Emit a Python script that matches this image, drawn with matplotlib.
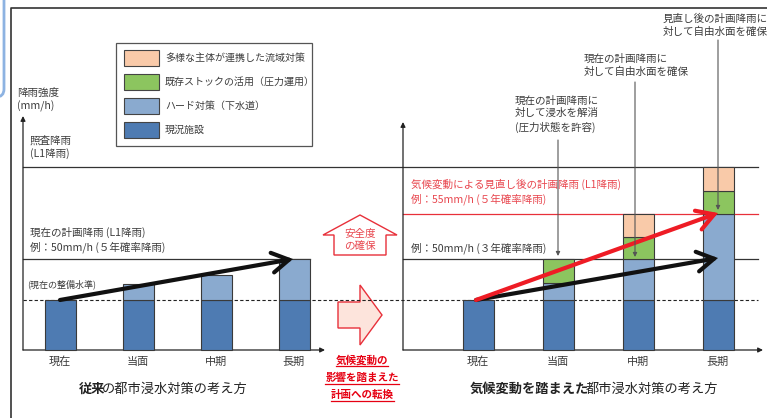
import numpy as np
import matplotlib.pyplot as plt
from matplotlib.patches import Polygon, Rectangle, FancyArrowPatch, FancyBboxPatch

plt.rcParams['font.family'] = ['Noto Sans CJK JP', 'DejaVu Sans']

# --- data (conceptual rainfall-capacity heights above the base line) ---
stages = ['現在', '当面', '中期', '長期']
left_base = [50, 50, 50, 50]
left_hard = [0, 16, 25, 41]
right_base = [50, 50, 50, 50]
right_hard = [0, 17, 41, 86]
right_stock = [0, 24, 22, 23]
right_basin = [0, 0, 23, 24]

level_now = 50      # 現在の整備水準
level_plan = 91     # 現在の計画降雨 50mm/h
level_new = 136     # 見直し後 55mm/h
level_check = 183   # 照査降雨

legend_labels = ['多様な主体が連携した流域対策', '既存ストックの活用（圧力運用）',
                 'ハード対策（下水道）', '現況施設']

c_base = '#4e7bb2'
c_hard = '#8aaacf'
c_stock = '#8cc55f'
c_basin = '#f9caa9'
red = '#e8303a'
txt = '#3c3c3c'
edge = '#3a3a3a'

fig = plt.figure(figsize=(7.67, 4.18), dpi=100)
ax = fig.add_axes([0, 0, 1, 1])
ax.set_xlim(0, 767)
ax.set_ylim(-68, 350)
ax.axis('off')

lx = 60 + 78 * np.arange(4)
rx = 478 + 80 * np.arange(4)
bw = 31

# outer frame and side tab
ax.plot([11, 11, 767], [-68, 342, 342], color='#333333', lw=1.2)
ax.add_patch(FancyBboxPatch((-30, 253), 34, 120, boxstyle='round,pad=0,rounding_size=8',
                            ec='#8db3e2', fc='none', lw=2))

# axes with arrow heads
for x0, x1, ytip in [(23, 325, 234), (403, 763, 228)]:
    ax.annotate('', xy=(x0, ytip), xytext=(x0, 0),
                arrowprops=dict(arrowstyle='-|>', color='#222222', lw=0.9, mutation_scale=7,
                                shrinkA=0, shrinkB=0))
    ax.annotate('', xy=(x1, 0), xytext=(x0, 0),
                arrowprops=dict(arrowstyle='-|>', color='#222222', lw=0.9, mutation_scale=7,
                                shrinkA=0, shrinkB=0))

# level lines
ax.plot([23, 758], [level_check] * 2, color='#333333', lw=0.9)
ax.plot([23, 310], [level_plan] * 2, color='#333333', lw=0.9)
ax.plot([403, 758], [level_plan] * 2, color='#333333', lw=0.9)
ax.plot([403, 758], [level_new] * 2, color=red, lw=0.9)
ax.plot([23, 758], [level_now] * 2, color='#222222', lw=0.8, ls=(0, (3, 2)))

# bars
kw = dict(width=bw, edgecolor=edge, linewidth=0.8, zorder=3)
ax.bar(lx, left_base, color=c_base, **kw)
lh = np.array(left_hard)
ax.bar(lx[lh > 0], lh[lh > 0], bottom=np.array(left_base)[lh > 0], color=c_hard, **kw)

bottom = np.array(right_base, dtype=float)
ax.bar(rx, right_base, color=c_base, **kw)
for vals, col in [(right_hard, c_hard), (right_stock, c_stock), (right_basin, c_basin)]:
    v = np.array(vals, dtype=float)
    m = v > 0
    ax.bar(rx[m], v[m], bottom=bottom[m], color=col, **kw)
    bottom += v

# stage labels
for xs in (lx, rx):
    for x, s in zip(xs, stages):
        ax.text(x, -12, s, ha='center', va='center', fontsize=8, color=txt)

# big trend arrows
def trend(p0, p1, col):
    ax.add_patch(FancyArrowPatch(p0, p1, arrowstyle='->,head_length=1.1,head_width=0.65',
                                 mutation_scale=11, lw=3, color=col, shrinkA=0, shrinkB=0,
                                 zorder=5, capstyle='round', joinstyle='miter'))

left_top = np.array(left_base) + lh
trend((lx[0], left_base[0]), (lx[3] - 1, left_top[3]), '#111111')
trend((rx[0] - 2, right_base[0]), (rx[3], level_plan + 1), '#111111')
trend((rx[0] - 2, right_base[0]), (rx[3], level_new + 1), '#ee1c25')

# legend box
ax.add_patch(Rectangle((116, 204), 196, 103, fc='white', ec='#555555', lw=0.9, zorder=4))
for i, (lab, col) in enumerate(zip(legend_labels, [c_basin, c_stock, c_hard, c_base])):
    yc = 292 - 24 * i
    ax.add_patch(Rectangle((124, yc - 8), 35, 16, fc=col, ec='#444444', lw=0.8, zorder=5))
    ax.text(165, yc, lab, va='center', ha='left', fontsize=7.2, color=txt, zorder=5)

# left panel texts
ax.text(17, 250, '降雨強度\n(mm/h)', va='center', fontsize=7.6, color=txt, linespacing=1.35)
ax.text(30, 203, '照査降雨\n(L1降雨)', va='center', fontsize=7.6, color=txt, linespacing=1.35)
ax.text(30, 110, '現在の計画降雨 (L1降雨)\n例：50mm/h (５年確率降雨)', va='center',
        fontsize=7.6, color=txt, linespacing=1.35)
ax.text(27, 66, '(現在の整備水準)', va='center', fontsize=6.5, color=txt)

# right panel texts
ax.text(411, 158, '気候変動による見直し後の計画降雨 (L1降雨)\n例：55mm/h (５年確率降雨)',
        va='center', fontsize=7.6, color='#e8474f', linespacing=1.35)
ax.text(411, 102, '例：50mm/h (３年確率降雨)', va='center', fontsize=7.6, color=txt)

notes = [(515, 236, '現在の計画降雨に\n対して浸水を解消\n(圧力状態を許容)', 558, 210,
          right_base[1] + right_hard[1] + right_stock[1] + 3),
         (584, 285, '現在の計画降雨に\n対して自由水面を確保', 635, 268,
          right_base[2] + right_hard[2] + 2),
         (663, 325, '見直し後の計画降雨に\n対して自由水面を確保', 718, 310,
          right_base[3] + right_hard[3] + 4)]
for tx, ty, s, px, py0, py1 in notes:
    ax.text(tx, ty, s, va='center', fontsize=7.6, color=txt, linespacing=1.35)
    ax.annotate('', xy=(px, py1), xytext=(px, py0),
                arrowprops=dict(arrowstyle='-|>', color='#555555', lw=0.8, mutation_scale=6,
                                shrinkA=0, shrinkB=0), zorder=6)

# block arrows in the middle
ax.add_patch(Polygon([(360, 135), (323, 115), (334, 115), (334, 95), (386, 95),
                      (386, 115), (397, 115)], closed=True, fc='white', ec=red, lw=1))
ax.text(360, 110, '安全度\nの確保', ha='center', va='center', fontsize=7.6,
        color='#e8474f', linespacing=1.25)
ax.add_patch(Polygon([(338, 48), (360, 48), (360, 65), (382, 35), (360, 5), (360, 22),
                      (338, 22)], closed=True, fc='#fde4dc', ec=red, lw=1))

mid = []
for y, s in [(-10, '気候変動の'), (-28, '影響を踏まえた'), (-45, '計画への転換')]:
    mid.append(ax.text(362, y, s, ha='center', va='center', fontsize=7.6,
                       color='#e60012', fontweight='bold'))

# titles with bold lead words
for x, b, n in [(79, '従来', 'の都市浸水対策の考え方'),
                (470, '気候変動を踏まえた', '都市浸水対策の考え方')]:
    t = ax.text(x, -39, b, ha='left', va='center', fontsize=9.5, fontweight='bold',
                color='#222222')
    ax.annotate(n, xy=(1, 0.5), xycoords=t, xytext=(-2.5, 0), textcoords='offset points',
                ha='left', va='center', fontsize=9.5, color='#222222')

# underline the red text
fig.canvas.draw()
inv = ax.transData.inverted()
for t in mid:
    bb = t.get_window_extent()
    (x0, y0), (x1, _) = inv.transform([[bb.x0, bb.y0], [bb.x1, bb.y1]])
    ax.plot([x0, x1], [y0 - 1, y0 - 1], color='#e60012', lw=0.9)

fig.savefig('out.png', dpi=100)
